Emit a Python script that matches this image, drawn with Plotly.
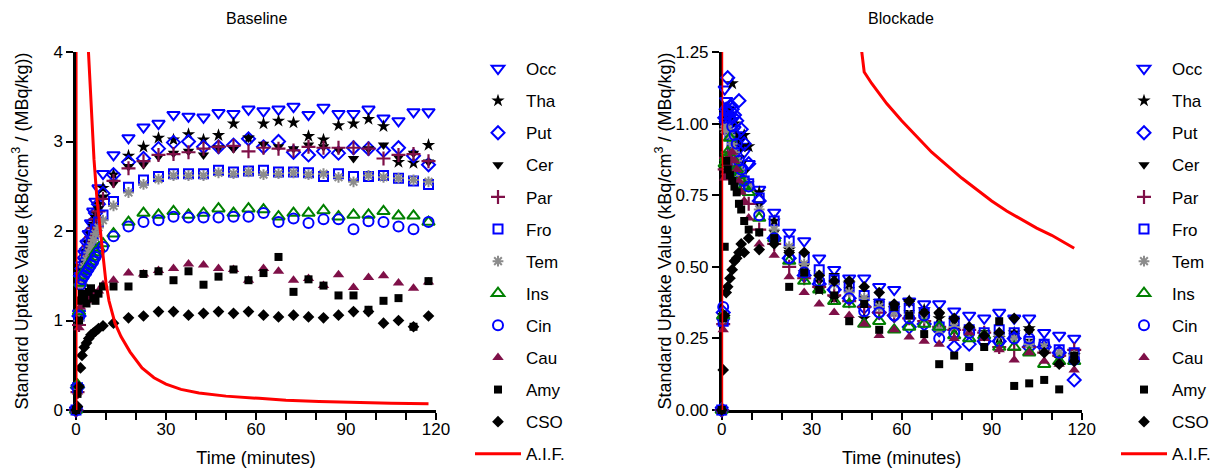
import plotly.graph_objects as go

# Frame mid-times (minutes), shared by both scans
time_min = [0, 0.5, 1.0, 1.5, 2.0, 2.75, 3.5, 4.25, 5.0, 5.75, 6.5, 7.5, 9.0,
            12.5, 17.5, 22.5, 27.5, 32.5, 37.5, 42.5, 47.5, 52.5, 57.5, 62.5,
            67.5, 72.5, 77.5, 82.5, 87.5, 92.5, 97.5, 102.5, 107.5, 112.5, 117.5]

# ---- Baseline SUV time-activity curves ----
base_occ = [0, 0.25, 1.08, 1.50, 1.62, 1.75, 1.86, 1.97, 2.09, 2.22, 2.33, 2.48, 2.64,
            2.85, 3.04, 3.16, 3.20, 3.30, 3.28, 3.27, 3.32, 3.31, 3.36, 3.34, 3.36,
            3.39, 3.30, 3.38, 3.31, 3.31, 3.36, 3.26, 3.23, 3.33, 3.33]
base_tha = [0, 0.22, 1.02, 1.48, 1.58, 1.68, 1.78, 1.88, 1.98, 2.08, 2.20, 2.30, 2.48,
            2.63, 2.84, 2.94, 3.04, 3.02, 3.08, 3.02, 3.07, 3.20, 3.04, 3.20, 3.23,
            3.21, 3.06, 3.02, 3.18, 3.20, 3.25, 3.17, 2.77, 2.76, 2.96]
base_put = [0, 0.25, 1.05, 1.50, 1.58, 1.70, 1.80, 1.90, 2.00, 2.10, 2.20, 2.30, 2.42,
            2.63, 2.77, 2.81, 2.92, 2.99, 3.00, 2.94, 2.94, 2.96, 3.03, 2.94, 3.00,
            2.88, 2.85, 2.89, 2.87, 2.93, 2.92, 2.90, 2.93, 2.84, 2.74]
base_cer = [0, 0.22, 1.00, 1.45, 1.56, 1.66, 1.76, 1.86, 1.96, 2.05, 2.15, 2.25, 2.38,
            2.53, 2.72, 2.74, 2.83, 2.87, 2.89, 2.85, 2.93, 2.92, 3.04, 2.97, 2.94,
            2.92, 2.96, 2.94, 2.91, 2.81, 2.92, 2.96, 2.82, 2.87, 2.77]
base_par = [0, 0.20, 0.95, 1.40, 1.52, 1.62, 1.73, 1.83, 1.93, 2.03, 2.13, 2.22, 2.36,
            2.56, 2.70, 2.78, 2.85, 2.86, 2.88, 2.92, 2.94, 2.95, 2.89, 2.93, 2.92,
            2.90, 2.94, 2.93, 2.93, 2.93, 2.92, 2.81, 2.85, 2.86, 2.78]
base_fro = [0, 0.25, 1.05, 1.45, 1.55, 1.64, 1.72, 1.80, 1.88, 1.95, 2.02, 2.10, 2.18,
            2.33, 2.49, 2.57, 2.61, 2.64, 2.64, 2.64, 2.68, 2.66, 2.67, 2.68, 2.66,
            2.66, 2.65, 2.61, 2.64, 2.61, 2.61, 2.62, 2.59, 2.56, 2.52]
base_tem = [0, 0.22, 1.00, 1.40, 1.50, 1.60, 1.68, 1.76, 1.83, 1.90, 1.97, 2.04, 2.12,
            2.28, 2.43, 2.52, 2.58, 2.62, 2.62, 2.62, 2.65, 2.64, 2.66, 2.63, 2.64,
            2.65, 2.63, 2.64, 2.60, 2.55, 2.62, 2.60, 2.59, 2.57, 2.55]
base_ins = [0, 0.28, 1.10, 1.42, 1.50, 1.55, 1.58, 1.62, 1.66, 1.71, 1.76, 1.81, 1.86,
            1.97, 2.10, 2.20, 2.18, 2.22, 2.18, 2.20, 2.25, 2.20, 2.25, 2.24, 2.16,
            2.20, 2.20, 2.23, 2.16, 2.18, 2.18, 2.22, 2.17, 2.17, 2.10]
base_cin = [0, 0.25, 1.05, 1.40, 1.46, 1.50, 1.54, 1.58, 1.62, 1.66, 1.71, 1.76, 1.82,
            1.94, 2.05, 2.10, 2.12, 2.16, 2.15, 2.15, 2.15, 2.16, 2.16, 2.20, 2.10,
            2.14, 2.09, 2.13, 2.13, 2.02, 2.11, 2.10, 2.05, 2.02, 2.10]
base_cau = [0, 0.20, 0.92, 1.15, 1.28, 1.24, 1.22, 1.25, 1.27, 1.28, 1.30, 1.33, 1.40,
            1.45, 1.53, 1.52, 1.56, 1.58, 1.63, 1.62, 1.58, 1.57, 1.45, 1.58, 1.55,
            1.45, 1.47, 1.39, 1.51, 1.37, 1.48, 1.50, 1.42, 1.36, 1.43]
base_amy = [0, 0.18, 1.00, 1.22, 1.30, 1.26, 1.19, 1.32, 1.36, 1.25, 1.22, 1.30, 1.38,
            1.38, 1.38, 1.52, 1.55, 1.45, 1.55, 1.40, 1.49, 1.57, 1.45, 1.53, 1.71,
            1.32, 1.46, 1.39, 1.28, 1.28, 1.12, 1.22, 1.25, 0.93, 1.44]
base_cso = [0, 0.04, 0.26, 0.47, 0.61, 0.70, 0.75, 0.80, 0.84, 0.86, 0.88, 0.91, 0.94,
            0.97, 1.03, 1.05, 1.10, 1.10, 1.06, 1.08, 1.10, 1.08, 1.10, 1.06, 1.04,
            1.06, 1.04, 1.03, 1.06, 1.10, 1.10, 0.97, 1.00, 0.93, 1.05]

# ---- Blockade SUV time-activity curves ----
block_occ = [0, 0.31, 1.12, 1.08, 1.05, 1.03, 1.01, 0.98, 0.96, 0.94, 0.92, 0.90, 0.86,
             0.77, 0.69, 0.62, 0.59, 0.53, 0.49, 0.46, 0.46, 0.43, 0.42, 0.38, 0.37,
             0.37, 0.345, 0.33, 0.32, 0.34, 0.32, 0.32, 0.27, 0.26, 0.25]
block_tha = [0, 0.33, 1.00, 1.02, 1.03, 1.05, 1.14, 1.00, 0.96, 0.94, 0.92, 0.96, 0.92,
             0.76, 0.66, 0.56, 0.48, 0.42, 0.39, 0.44, 0.32, 0.38, 0.355, 0.38, 0.35,
             0.32, 0.28, 0.28, 0.27, 0.25, 0.27, 0.285, 0.22, 0.18, 0.19]
block_put = [0, 0.34, 1.02, 1.05, 1.16, 1.06, 1.05, 1.03, 1.01, 1.08, 0.98, 0.93, 0.86,
             0.73, 0.60, 0.53, 0.47, 0.44, 0.42, 0.39, 0.36, 0.34, 0.33, 0.29, 0.30,
             0.28, 0.22, 0.23, 0.24, 0.24, 0.25, 0.22, 0.22, 0.20, 0.105]
block_cer = [0, 0.33, 0.98, 1.00, 1.01, 0.99, 0.97, 0.93, 0.90, 0.88, 0.86, 0.83, 0.79,
             0.72, 0.62, 0.55, 0.50, 0.45, 0.47, 0.42, 0.39, 0.37, 0.35, 0.34, 0.33,
             0.33, 0.31, 0.28, 0.27, 0.26, 0.26, 0.24, 0.20, 0.19, 0.19]
block_par = [0, 0.30, 0.84, 0.88, 0.90, 0.89, 0.88, 0.86, 0.84, 0.82, 0.80, 0.77, 0.72,
             0.63, 0.58, 0.50, 0.46, 0.43, 0.40, 0.38, 0.36, 0.34, 0.33, 0.32, 0.31,
             0.29, 0.28, 0.28, 0.27, 0.22, 0.21, 0.22, 0.20, 0.19, 0.21]
block_fro = [0, 0.31, 1.02, 1.00, 0.98, 0.96, 0.93, 0.90, 0.86, 0.84, 0.82, 0.80, 0.79,
             0.74, 0.66, 0.59, 0.53, 0.49, 0.455, 0.43, 0.40, 0.37, 0.36, 0.355, 0.34,
             0.29, 0.31, 0.28, 0.27, 0.28, 0.27, 0.24, 0.23, 0.21, 0.20]
block_tem = [0, 0.32, 0.98, 0.99, 0.98, 0.96, 0.93, 0.90, 0.87, 0.84, 0.82, 0.80, 0.78,
             0.70, 0.63, 0.57, 0.51, 0.47, 0.44, 0.41, 0.39, 0.36, 0.34, 0.33, 0.32,
             0.28, 0.29, 0.27, 0.26, 0.26, 0.25, 0.23, 0.22, 0.20, 0.19]
block_ins = [0, 0.33, 0.86, 0.88, 0.90, 0.95, 0.88, 0.86, 0.84, 0.82, 0.80, 0.78, 0.76,
             0.67, 0.60, 0.52, 0.45, 0.42, 0.38, 0.37, 0.30, 0.31, 0.28, 0.29, 0.30,
             0.29, 0.26, 0.25, 0.26, 0.22, 0.22, 0.20, 0.16, 0.17, 0.17]
block_cin = [0, 0.36, 1.02, 1.03, 1.04, 1.02, 0.99, 0.96, 0.93, 0.87, 0.84, 0.80, 0.78,
             0.68, 0.60, 0.53, 0.48, 0.45, 0.42, 0.39, 0.345, 0.34, 0.33, 0.32, 0.33,
             0.25, 0.27, 0.27, 0.24, 0.24, 0.25, 0.25, 0.23, 0.20, 0.175]
block_cau = [0, 0.28, 0.81, 0.83, 0.86, 0.88, 0.90, 0.87, 0.84, 0.80, 0.76, 0.73, 0.67,
             0.58, 0.54, 0.465, 0.41, 0.37, 0.34, 0.33, 0.30, 0.26, 0.28, 0.255, 0.24,
             0.23, 0.25, 0.27, 0.25, 0.21, 0.175, 0.20, 0.17, 0.16, 0.14]
block_amy = [0, 0.32, 0.57, 0.87, 0.84, 0.82, 0.80, 0.78, 0.76, 0.72, 0.70, 0.66, 0.63,
             0.62, 0.60, 0.43, 0.48, 0.42, 0.40, 0.31, 0.37, 0.28, 0.36, 0.33, 0.265,
             0.16, 0.19, 0.15, 0.22, 0.31, 0.084, 0.093, 0.105, 0.072, 0.19]
block_cso = [0, 0.14, 0.33, 0.41, 0.43, 0.46, 0.49, 0.52, 0.53, 0.55, 0.58, 0.55, 0.60,
             0.56, 0.58, 0.55, 0.55, 0.47, 0.45, 0.45, 0.43, 0.41, 0.37, 0.38, 0.34,
             0.34, 0.32, 0.29, 0.26, 0.27, 0.32, 0.28, 0.20, 0.16, 0.17]

# ---- Arterial input functions ----
aif_base_t = [0, 0.2, 1, 2, 3, 4, 5, 6, 7, 8, 9, 10, 11, 13, 15, 18, 22, 26, 30, 35,
              41, 50, 61, 70, 81, 95, 105, 117.5]
aif_base_v = [0, 45, 25, 12, 6.5, 4.1, 3.4, 2.8, 2.35, 2.05, 1.68, 1.42, 1.22, 0.97,
              0.82, 0.65, 0.47, 0.36, 0.29, 0.23, 0.19, 0.155, 0.13, 0.11, 0.095,
              0.082, 0.076, 0.07]
aif_block_t = [0, 0.2, 30, 47.5, 50, 55, 60, 65, 70, 75, 80, 85, 90, 95, 100, 105,
               110, 117.5]
aif_block_v = [0, 45, 2.7, 1.18, 1.14, 1.07, 1.01, 0.955, 0.90, 0.855, 0.81, 0.77,
               0.73, 0.695, 0.665, 0.635, 0.61, 0.565]

region_names = ["Occ", "Tha", "Put", "Cer", "Par", "Fro", "Tem", "Ins", "Cin",
                "Cau", "Amy", "CSO"]
baseline_series = [base_occ, base_tha, base_put, base_cer, base_par, base_fro,
                   base_tem, base_ins, base_cin, base_cau, base_amy, base_cso]
blockade_series = [block_occ, block_tha, block_put, block_cer, block_par, block_fro,
                   block_tem, block_ins, block_cin, block_cau, block_amy, block_cso]

BLUE = "#0000FF"
MAROON = "#7F1048"
GREEN = "#008000"
GRAY = "#8C8C8C"
BLACK = "#000000"

# symbol, colour, size, outline width
marker_styles = {
    "Occ": ("triangle-down-open", BLUE, 11, 2),
    "Tha": ("star", BLACK, 10, 0),
    "Put": ("diamond-open", BLUE, 10, 2),
    "Cer": ("triangle-down", BLACK, 10, 0),
    "Par": ("cross-thin-open", MAROON, 10, 2.2),
    "Fro": ("square-open", BLUE, 9, 2),
    "Tem": ("asterisk-open", GRAY, 9, 2),
    "Ins": ("triangle-up-open", GREEN, 11, 2),
    "Cin": ("circle-open", BLUE, 10, 2),
    "Cau": ("triangle-up", MAROON, 10, 0),
    "Amy": ("square", BLACK, 8, 0),
    "CSO": ("diamond", BLACK, 9, 0),
}

FONT = "Liberation Sans, Arial, sans-serif"

fig = go.Figure()


def add_panel(series, xa, ya, legend_name, prefix, aif_t, aif_v):
    for name, vals in zip(region_names, series):
        sym, col, size, lw = marker_styles[name]
        fig.add_trace(go.Scatter(
            x=time_min, y=vals, mode="markers", name=name,
            xaxis=xa, yaxis=ya, legend=legend_name, legendgroup=prefix + name,
            cliponaxis=False,
            marker=dict(symbol=sym, color=col, size=size,
                        line=dict(color=col, width=lw)),
        ))
    fig.add_trace(go.Scatter(
        x=aif_t, y=aif_v, mode="lines", name="A.I.F.",
        xaxis=xa, yaxis=ya, legend=legend_name, legendgroup=prefix + "aif",
        line=dict(color="#FF0000", width=3),
    ))


add_panel(baseline_series, "x", "y", "legend", "b-", aif_base_t, aif_base_v)
add_panel(blockade_series, "x2", "y2", "legend2", "k-", aif_block_t, aif_block_v)

ydom = [62 / 472, 420 / 472]
axis_common = dict(
    showgrid=False, zeroline=False, showline=True, linecolor="black", linewidth=2.5,
    ticks="outside", ticklen=7, tickwidth=2, tickcolor="black",
    tickfont=dict(family=FONT, size=17, color="black"), automargin=False,
    layer="below traces",
)
x_common = dict(axis_common, range=[0, 120], tickmode="array",
                tickvals=[0, 30, 60, 90, 120], ticklabelstandoff=-5,
                minor=dict(ticks="outside", dtick=10, tick0=0, ticklen=7,
                           tickwidth=2, tickcolor="black"),
                title=dict(text="Time (minutes)", standoff=14,
                           font=dict(family=FONT, size=18, color="black")))
ytitle = "Standard Uptake Value (kBq/cm<sup>3</sup> / (MBq/kg))"
legend_common = dict(yanchor="top", xanchor="left", itemwidth=46,
                     font=dict(family=FONT, size=17, color="black"),
                     tracegroupgap=7, bgcolor="rgba(0,0,0,0)")

fig.update_layout(
    width=1227, height=472,
    margin=dict(l=0, r=0, t=0, b=0),
    paper_bgcolor="white", plot_bgcolor="white",
    font=dict(family=FONT, color="black"),
    xaxis=dict(x_common, domain=[76 / 1227, 436 / 1227], anchor="y"),
    yaxis=dict(axis_common, domain=ydom, anchor="x", range=[0, 4],
               tickvals=[0, 1, 2, 3, 4],
               title=dict(text=ytitle, standoff=21,
                          font=dict(family=FONT, size=18, color="black"))),
    xaxis2=dict(x_common, domain=[721.7 / 1227, 1081.7 / 1227], anchor="y2"),
    yaxis2=dict(axis_common, domain=ydom, anchor="x2", range=[0, 1.25],
                tickvals=[0, 0.25, 0.5, 0.75, 1.0, 1.25], tickformat=".2f",
                title=dict(text=ytitle, standoff=0,
                           font=dict(family=FONT, size=18, color="black"))),
    legend=dict(legend_common, x=470 / 1227, y=1 - 58 / 472),
    legend2=dict(legend_common, x=1116 / 1227, y=1 - 58 / 472),
    annotations=[
        dict(text="Baseline", x=256 / 1227, y=1 - 18 / 472, xref="paper", yref="paper",
             xanchor="center", yanchor="middle", showarrow=False,
             font=dict(family=FONT, size=16, color="black")),
        dict(text="Blockade", x=901 / 1227, y=1 - 18 / 472, xref="paper", yref="paper",
             xanchor="center", yanchor="middle", showarrow=False,
             font=dict(family=FONT, size=16, color="black")),
    ],
)

fig.write_html("out.html")
